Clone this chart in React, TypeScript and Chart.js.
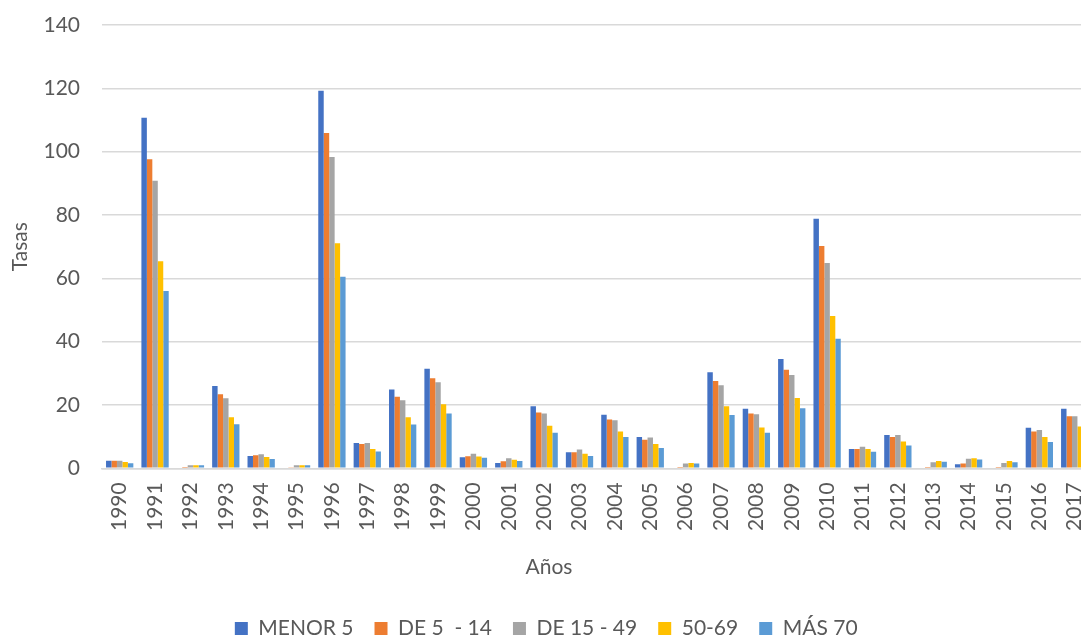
import React, { useEffect, useRef } from "react";
import { Chart, registerables } from "chart.js";

Chart.register(...registerables);

const years = [
  "1990", "1991", "1992", "1993", "1994", "1995", "1996", "1997", "1998", "1999",
  "2000", "2001", "2002", "2003", "2004", "2005", "2006", "2007", "2008", "2009",
  "2010", "2011", "2012", "2013", "2014", "2015", "2016", "2017",
];

const menor5 = [2.4, 110.7, 0, 26.0, 3.9, 0, 119.2, 8.0, 24.9, 31.4, 3.5, 1.7, 19.6, 5.1, 16.9, 9.9, 0, 30.3, 18.8, 34.5, 78.8, 6.1, 10.5, 0, 1.3, 0, 12.8, 18.8];
const de5a14 = [2.4, 97.6, 0.4, 23.4, 4.1, 0.3, 105.9, 7.7, 22.6, 28.4, 3.8, 2.2, 17.6, 5.1, 15.4, 9.0, 0.1, 27.6, 17.3, 31.1, 70.2, 6.1, 9.9, 0.4, 1.5, 0.1, 11.6, 16.4];
const de15a49 = [2.4, 90.8, 1.0, 22.1, 4.4, 1.0, 98.3, 8.0, 21.5, 27.2, 4.6, 3.2, 17.3, 5.9, 15.2, 9.7, 1.5, 26.2, 17.1, 29.5, 64.8, 6.8, 10.5, 1.9, 3.0, 1.7, 12.1, 16.4];
const de50a69 = [2.0, 65.4, 1.0, 16.1, 3.6, 1.0, 71.1, 6.1, 16.1, 20.2, 3.7, 2.7, 13.4, 4.6, 11.6, 7.7, 1.7, 19.6, 12.9, 22.2, 48.1, 6.1, 8.5, 2.3, 3.2, 2.3, 9.9, 13.2];
const mas70 = [1.6, 56.0, 1.0, 13.9, 2.9, 1.0, 60.5, 5.3, 13.8, 17.3, 3.3, 2.3, 11.2, 3.9, 9.9, 6.4, 1.5, 16.8, 11.2, 19.0, 40.9, 5.2, 7.2, 2.1, 2.8, 1.9, 8.3, 11.0];

const seriesNames = ["MENOR 5", "DE 5  - 14", "DE 15 - 49", "50-69", "MÁS 70"];
const seriesColors = ["#4472C4", "#ED7D31", "#A5A5A5", "#FFC000", "#5B9BD5"];

const yAxisTitle = "Tasas";
const xAxisTitle = "Años";

const FONT = "Lato, 'Open Sans', sans-serif";
const TEXT = "#595959";

const xTitlePlugin = {
  id: "xTitleCentered",
  afterDraw(chart: any) {
    const ctx = chart.ctx;
    ctx.save();
    ctx.font = `21px ${FONT}`;
    ctx.fillStyle = TEXT;
    ctx.textAlign = "center";
    ctx.textBaseline = "middle";
    ctx.fillText(xAxisTitle, 549, 567);
    ctx.restore();
  },
};

export default function App() {
  const ref = useRef<HTMLCanvasElement | null>(null);

  useEffect(() => {
    if (!ref.current) return;
    const values = [menor5, de5a14, de15a49, de50a69, mas70];
    const chart = new Chart(ref.current, {
      type: "bar",
      data: {
        labels: years,
        datasets: values.map((v, i) => ({
          label: seriesNames[i],
          data: v,
          backgroundColor: seriesColors[i],
          borderWidth: 0,
          categoryPercentage: 0.772,
          barPercentage: 1.0,
        })),
      },
      plugins: [xTitlePlugin],
      options: {
        responsive: false,
        animation: false,
        devicePixelRatio: 1,
        layout: { padding: { top: 25, right: 7.6, left: 0, bottom: 0 } },
        plugins: {
          legend: {
            position: "bottom",
            labels: {
              boxWidth: 13,
              boxHeight: 13,
              padding: 21,
              color: TEXT,
              font: { family: FONT, size: 21 },
            },
          },
          tooltip: { enabled: false },
        },
        scales: {
          x: {
            grid: { display: false, drawTicks: false },
            border: { display: true, color: "#d9d9d9", width: 1.5 },
            ticks: {
              color: TEXT,
              font: { family: FONT, size: 21 },
              minRotation: 90,
              maxRotation: 90,
              autoSkip: false,
              padding: 14,
            },
            title: { display: false },
            afterFit: (scale: any) => {
              scale.height = 128.7;
              scale.paddingLeft = 0;
              scale.paddingRight = 0;
            },
          },
          y: {
            min: 0,
            max: 140,
            grid: { color: "#d9d9d9", lineWidth: 1.5, drawTicks: false },
            border: { display: false },
            ticks: {
              stepSize: 20,
              color: TEXT,
              font: { family: FONT, size: 21 },
              padding: 22,
            },
            title: {
              display: true,
              text: yAxisTitle,
              color: TEXT,
              font: { family: FONT, size: 21 },
              padding: { top: 7.4, bottom: 0 },
            },
            afterFit: (scale: any) => {
              scale.width = 102;
              scale.paddingTop = 0;
              scale.paddingBottom = 0;
            },
          },
        },
      },
    });
    return () => chart.destroy();
  }, []);

  return (
    <div
      style={{
        position: "fixed",
        left: 0,
        top: 0,
        width: 1081,
        height: 638,
        overflow: "hidden",
        background: "#ffffff",
      }}
    >
      <canvas
        ref={ref}
        width={1100}
        height={649}
        style={{ display: "block", width: 1100, height: 649 }}
      />
    </div>
  );
}
